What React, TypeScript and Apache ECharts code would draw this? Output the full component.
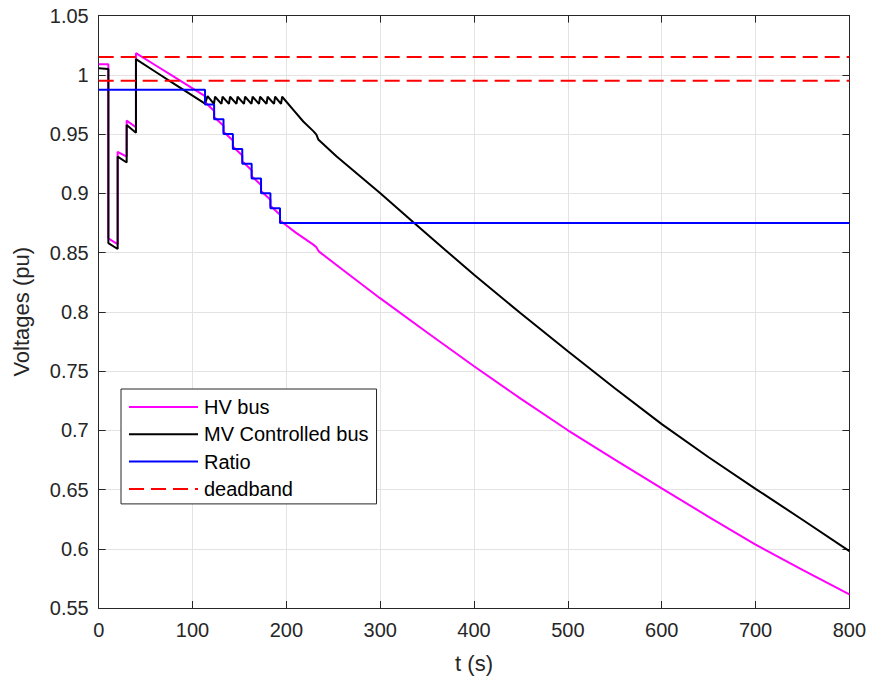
import React, { useEffect, useRef } from "react";
import * as echarts from "echarts";

// ---- Data ----
const xTicks = [0, 100, 200, 300, 400, 500, 600, 700, 800];
const yTicks = [0.55, 0.6, 0.65, 0.7, 0.75, 0.8, 0.85, 0.9, 0.95, 1, 1.05];

// HV bus (magenta)
const hvTime = [
  0, 10.3, 10.3, 20.2, 20.2, 29.8, 29.8, 39.7, 39.7, 60, 80, 100,
  113.3, 113.3, 123, 123, 133, 133, 143, 143, 153, 153, 163, 163, 173, 173, 183, 183, 193.2, 193.2,
  210, 228.7, 232, 234.5, 260, 299.8, 350, 400, 450, 500, 550, 600, 650, 700, 750, 800,
];
const hvValue = [
  1.009, 1.009, 0.862, 0.857, 0.935, 0.931, 0.9614, 0.9558, 1.0183, 1.0083, 0.9985, 0.9886,
  0.982, 0.977, 0.9695, 0.9645, 0.957, 0.952, 0.9445, 0.9395, 0.932, 0.927, 0.9195, 0.9145, 0.907, 0.902, 0.8945, 0.8895, 0.882, 0.877,
  0.8668, 0.8567, 0.8545, 0.851, 0.8355, 0.8115, 0.7825, 0.754, 0.7265, 0.7, 0.6752, 0.651, 0.627, 0.6035, 0.5822, 0.5615,
];

// MV Controlled bus (black)
const mvTime = [
  0, 10.3, 10.3, 20.2, 20.2, 29.8, 29.8, 39.7, 39.7, 60, 80, 100, 113.3,
  116, 122.8, 124, 130.8, 132, 138.8, 140, 146.8, 148, 154.8, 156, 162.8, 164, 170.8, 172, 178.8, 180, 186.8, 188, 194.3, 195.5,
  209, 218, 228.7, 232, 234, 253.6, 299.8, 335.3, 369, 400, 450, 500, 550, 600, 650, 700, 750, 800,
];
const mvValue = [
  1.0056, 1.005, 0.858, 0.853, 0.931, 0.926, 0.9577, 0.9512, 1.0132, 1.0028, 0.9926, 0.9824, 0.9757,
  0.982, 0.9755, 0.9815, 0.9755, 0.9815, 0.9755, 0.9815, 0.9755, 0.9815, 0.9755, 0.9815, 0.9755, 0.9815, 0.9755, 0.9815, 0.9755, 0.9815, 0.9755, 0.9815, 0.9755, 0.9815,
  0.969, 0.9606, 0.9525, 0.9495, 0.9455, 0.9311, 0.9003, 0.8755, 0.8524, 0.8313, 0.7985, 0.7667, 0.7355, 0.7052, 0.6772, 0.6506, 0.6245, 0.598,
];

// Ratio (blue)
const ratioTime = [
  0, 113.3, 113.3, 123, 123, 133, 133, 143, 143, 153, 153, 163, 163, 173, 173, 183, 183, 193.2, 193.2, 800,
];
const ratioValue = [
  0.9875, 0.9875, 0.975, 0.975, 0.9625, 0.9625, 0.95, 0.95, 0.9375, 0.9375, 0.925, 0.925, 0.9125, 0.9125, 0.9, 0.9, 0.8875, 0.8875, 0.875, 0.875,
];

// Deadband (red dashed)
const deadbandTime = [0, 800];
const deadbandUpper = [1.015, 1.015];
const deadbandLower = [0.995, 0.995];

const zip = (t: number[], v: number[]) => t.map((x, i) => [x, v[i]]);

const FONT = "'Liberation Sans', Arial, Helvetica, sans-serif";
const AXIS_COLOR = "#262626";

export default function App() {
  const ref = useRef<HTMLDivElement>(null);

  useEffect(() => {
    if (!ref.current) return;
    const chart = echarts.init(ref.current, undefined, { renderer: "svg" });
    const fmt = (v: number) => String(parseFloat(Number(v).toFixed(2)));
    const common = {
      type: "line" as const,
      showSymbol: false,
      symbol: "none",
      xAxisIndex: 0,
      yAxisIndex: 0,
    };
    chart.setOption({
      animation: false,
      backgroundColor: "#ffffff",
      textStyle: { fontFamily: FONT },
      grid: { left: 98.7, right: 21.6, top: 15.6, bottom: 78, containLabel: false },
      legend: {
        orient: "vertical",
        left: 121,
        top: 389,
        padding: [8, 8, 5, 7],
        itemWidth: 69,
        itemHeight: 20,
        itemGap: 7.3,
        backgroundColor: "#ffffff",
        borderColor: AXIS_COLOR,
        borderWidth: 1,
        itemStyle: { opacity: 0, borderWidth: 0 },
        textStyle: { fontFamily: FONT, fontSize: 20, color: "#000", lineHeight: 20, padding: [0, 0, 0, 1] },
        data: ["HV bus", "MV Controlled bus", "Ratio", "deadband"],
      },
      xAxis: [
        {
          type: "value",
          min: xTicks[0],
          max: xTicks[xTicks.length - 1],
          interval: 100,
          name: "t (s)",
          nameLocation: "middle",
          nameGap: 44,
          nameTextStyle: { fontFamily: FONT, fontSize: 22, color: AXIS_COLOR },
          axisLine: { show: true, lineStyle: { color: AXIS_COLOR, width: 1 } },
          axisTick: { show: true, inside: true, length: 7, lineStyle: { color: AXIS_COLOR } },
          axisLabel: { fontFamily: FONT, fontSize: 20, color: AXIS_COLOR, margin: 12 },
          splitLine: { show: true, lineStyle: { color: "#e3e3e3", width: 1 } },
        },
        {
          type: "value",
          position: "top",
          min: xTicks[0],
          max: xTicks[xTicks.length - 1],
          interval: 100,
          axisLine: { show: true, onZero: false, lineStyle: { color: AXIS_COLOR, width: 1 } },
          axisTick: { show: true, inside: true, length: 7, lineStyle: { color: AXIS_COLOR } },
          axisLabel: { show: false },
          splitLine: { show: false },
        },
      ],
      yAxis: [
        {
          type: "value",
          min: yTicks[0],
          max: yTicks[yTicks.length - 1],
          interval: 0.05,
          name: "Voltages (pu)",
          nameLocation: "middle",
          nameGap: 66,
          nameTextStyle: { fontFamily: FONT, fontSize: 22, color: AXIS_COLOR },
          axisLine: { show: true, onZero: false, lineStyle: { color: AXIS_COLOR, width: 1 } },
          axisTick: { show: true, inside: true, length: 7, lineStyle: { color: AXIS_COLOR } },
          axisLabel: { fontFamily: FONT, fontSize: 20, color: AXIS_COLOR, margin: 10, formatter: fmt },
          splitLine: { show: true, lineStyle: { color: "#e3e3e3", width: 1 } },
        },
        {
          type: "value",
          position: "right",
          min: yTicks[0],
          max: yTicks[yTicks.length - 1],
          interval: 0.05,
          axisLine: { show: true, onZero: false, lineStyle: { color: AXIS_COLOR, width: 1 } },
          axisTick: { show: true, inside: true, length: 7, lineStyle: { color: AXIS_COLOR } },
          axisLabel: { show: false },
          splitLine: { show: false },
        },
      ],
      series: [
        { ...common, name: "HV bus", data: zip(hvTime, hvValue), lineStyle: { color: "#ff00ff", width: 2 }, itemStyle: { color: "#ff00ff" } },
        { ...common, name: "MV Controlled bus", data: zip(mvTime, mvValue), lineStyle: { color: "#000000", width: 2 }, itemStyle: { color: "#000000" } },
        { ...common, name: "Ratio", data: zip(ratioTime, ratioValue), lineStyle: { color: "#0000ff", width: 2 }, itemStyle: { color: "#0000ff" } },
        { ...common, name: "deadband", data: zip(deadbandTime, deadbandUpper), lineStyle: { color: "#ff0000", width: 2, type: [15, 7] }, itemStyle: { color: "#ff0000" } },
        { ...common, name: "deadband", data: zip(deadbandTime, deadbandLower), lineStyle: { color: "#ff0000", width: 2, type: [15, 7] }, itemStyle: { color: "#ff0000" } },
      ],
    });
    return () => chart.dispose();
  }, []);

  return <div ref={ref} style={{ position: "absolute", left: 0, top: 0, width: 871, height: 686 }} />;
}
